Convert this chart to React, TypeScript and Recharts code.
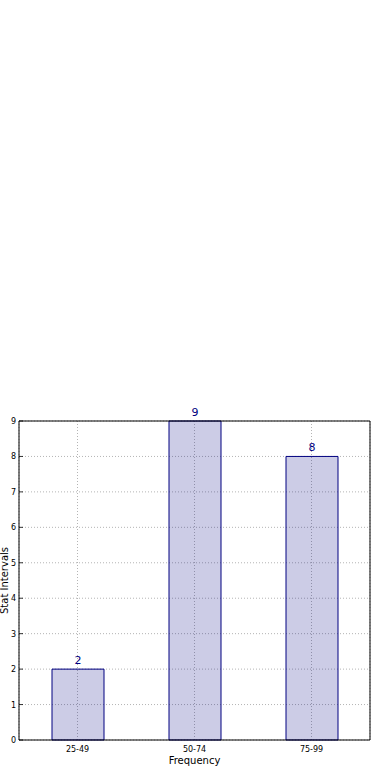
import { BarChart, Bar, XAxis, YAxis, CartesianGrid, LabelList } from 'recharts';

const intervals = ['25-49', '50-74', '75-99'];
const counts = [2, 9, 8];
const yTicks = [0, 1, 2, 3, 4, 5, 6, 7, 8, 9];

const data = intervals.map((name, i) => ({ name, count: counts[i] }));

const FONT = 'DejaVu Sans, sans-serif';
const PLOT_LEFT = 19;

const YTick = (props: any) => {
  const { y, payload } = props;
  return (
    <g>
      <text x={PLOT_LEFT - 3} y={y} dy={3} textAnchor="end" fontSize={8} fill="#000" fontFamily={FONT}>
        {payload.value}
      </text>
      <line x1={PLOT_LEFT} x2={PLOT_LEFT + 4} y1={y} y2={y} stroke="#000" strokeWidth={0.8} />
    </g>
  );
};

const XTick = (props: any) => {
  const { x, y, payload } = props;
  return (
    <text x={x} y={y + 4} textAnchor="middle" fontSize={8} fill="#000" fontFamily={FONT}>
      {payload.value}
    </text>
  );
};

export default function App() {
  return (
    <div style={{ position: 'absolute', left: 0, top: 0, background: '#fff' }}>
      <BarChart
        width={390}
        height={780}
        data={data}
        margin={{ top: 420, right: 19, left: 0, bottom: 0 }}
        barCategoryGap={0}
      >
        <CartesianGrid stroke="#b4b4b4" strokeDasharray="1 2" strokeWidth={1} />
        <XAxis
          dataKey="name"
          height={40}
          axisLine={{ stroke: '#000' }}
          tickLine={false}
          tick={<XTick />}
          interval={0}
          label={(p: any) => (
            <text
              x={p.viewBox.x + p.viewBox.width / 2}
              y={p.viewBox.y + 24}
              textAnchor="middle"
              fontSize={10}
              fontFamily={FONT}
              fill="#000"
            >
              Frequency
            </text>
          )}
        />
        <XAxis xAxisId="top" dataKey="name" orientation="top" height={1} tick={false} tickLine={false} axisLine={{ stroke: '#000' }} />
        <YAxis
          domain={[0, 9]}
          ticks={yTicks}
          width={PLOT_LEFT}
          axisLine={{ stroke: '#000' }}
          tickLine={false}
          tick={<YTick />}
          interval={0}
          label={(p: any) => (
            <text
              x={8}
              y={p.viewBox.y + p.viewBox.height / 2}
              textAnchor="middle"
              fontSize={10}
              fontFamily={FONT}
              fill="#000"
              transform={`rotate(-90, 8, ${p.viewBox.y + p.viewBox.height / 2})`}
            >
              Stat Intervals
            </text>
          )}
        />
        <YAxis yAxisId="right" orientation="right" domain={[0, 9]} width={1} tick={false} tickLine={false} axisLine={{ stroke: '#000' }} />
        <Bar
          dataKey="count"
          barSize={52}
          fill="#000080"
          fillOpacity={0.2}
          stroke="#000080"
          strokeWidth={1}
          isAnimationActive={false}
        >
          <LabelList dataKey="count" position="top" offset={5} fontSize={11} fill="#000080" fontFamily={FONT} />
        </Bar>
      </BarChart>
    </div>
  );
}
